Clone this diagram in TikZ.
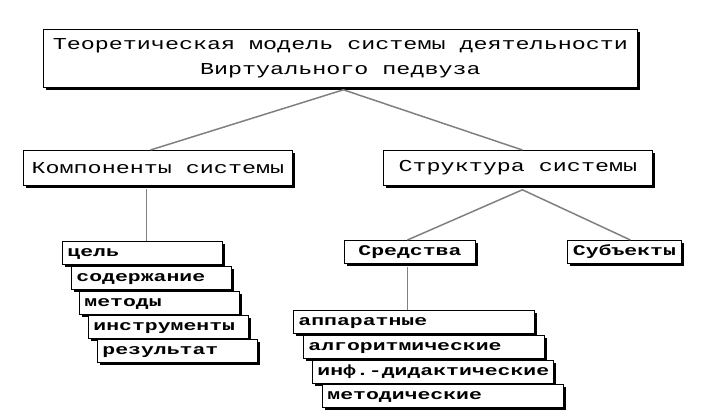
\documentclass[tikz,border=0pt]{standalone}
\usepackage{fontspec}
\newfontfamily\courR[FakeStretch=1.4]{Liberation Mono}
\newfontfamily\courB[FakeStretch=1.45]{Liberation Mono}
\usetikzlibrary{shadows,calc}
\tikzset{
  box/.style={draw=black, line width=0.8pt, fill=white, anchor=north west,
    general shadow={fill=black, shadow xshift=3pt, shadow yshift=-3pt},
    inner sep=0pt},
  bigbox/.style={box, font=\courR\fontsize{16.7}{25}\selectfont, align=center},
  smallfont/.style={font=\courB\bfseries\fontsize{14.8}{23}\selectfont,
    text height=15.5pt, text depth=7.5pt},
  lbox/.style={box, smallfont, inner xsep=5pt, text width=150pt, align=left},
  rbox/.style={box, smallfont, inner xsep=5pt, text width=231pt, align=left},
  link/.style={draw=black!50, line width=1.5pt}
}
\begin{document}
\begin{tikzpicture}[x=1pt,y=-1pt]
\useasboundingbox (0,0) rectangle (717,418);
% nodes
\node[bigbox, minimum width=594pt, minimum height=58pt] (title) at (43,29)
  {Теоретическая модель системы деятельности\\Виртуального педвуза};
\node[bigbox, minimum width=269pt, minimum height=35pt] (komp) at (23,150) {Компоненты системы};
\node[bigbox, minimum width=269pt, minimum height=35pt] (struct) at (383,150) {Структура системы};
\node[box, smallfont, minimum width=131pt] (sred) at (344,240) {Средства};
\node[box, smallfont, minimum width=114pt] (subj) at (567,240) {Субъекты};
% left stack
\node[lbox] (l1) at (62,241) {цель};
\node[lbox] (l2) at (71,266) {содержание};
\node[lbox] (l3) at (79,291) {методы};
\node[lbox] (l4) at (88,315) {инструменты};
\node[lbox] (l5) at (97,339) {результат};
% right stack
\node[rbox] (r1) at (293,310) {аппаратные};
\node[rbox] (r2) at (303,335) {алгоритмические};
\node[rbox] (r3) at (312,360) {\mbox{инф.-дидактические}};
\node[rbox] (r4) at (322,384) {методические};
% connectors
\coordinate (ta) at ($(title.south)+(3,2)$);
\draw[link] ($(komp.north)+(-7.5,0)$) -- (ta) -- ($(struct.north)+(4.5,0)$);
\coordinate (kb) at ($(komp.south)+(-11.5,3)$);
\draw[link] (kb) -- (kb |- l1.north);
\coordinate (sa) at ($(struct.south)+(4.5,4)$);
\draw[link] ($(sred.north)+(-2.5,0)$) -- (sa) -- ($(subj.north)+(6,0)$);
\coordinate (sb) at ($(sred.south)+(-2.5,3)$);
\draw[link] (sb) -- (sb |- r1.north);
\end{tikzpicture}
\end{document}
